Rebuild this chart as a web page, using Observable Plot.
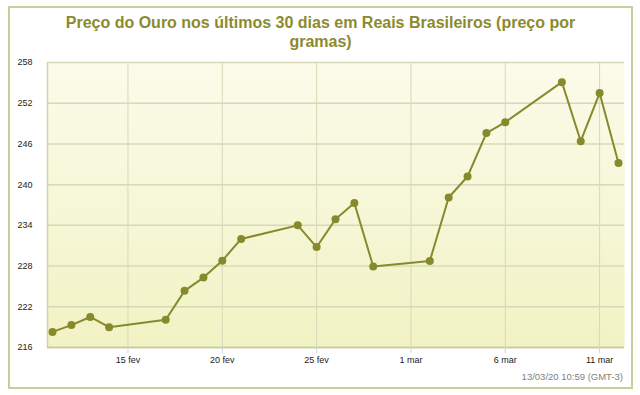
<!DOCTYPE html>
<html>
<head>
<meta charset="utf-8">
<script src="https://cdn.jsdelivr.net/npm/d3@7"></script>
<script src="https://cdn.jsdelivr.net/npm/@observablehq/plot@0.6"></script>
<style>
  html, body { margin: 0; padding: 0; background: #ffffff; }
  #wrap { position: relative; width: 640px; height: 395px; overflow: hidden; font-family: "Liberation Sans", Arial, sans-serif; }
  #border { position: absolute; left: 8px; top: 6px; width: 621px; height: 379px; border: 2px solid #cdcc9c; }
  #title { position: absolute; left: 9px; width: 623px; top: 13px; text-align: center; font-weight: bold; font-size: 16px; line-height: 19px; color: #8c8a2e; }
  #caption { position: absolute; right: 17px; top: 371px; font-size: 9.5px; color: #808080; }
  #chart { position: absolute; left: 0; top: 0; }
</style>
</head>
<body>
<div id="wrap">
  <div id="border"></div>
  <div id="chart"></div>
  <div id="title">Preço do Ouro nos últimos 30 dias em Reais Brasileiros (preço por<br>gramas)</div>
  <div id="caption">13/03/20 10:59 (GMT-3)</div>
</div>
<script>
const dates = ["2020-02-11","2020-02-12","2020-02-13","2020-02-14","2020-02-17","2020-02-18","2020-02-19","2020-02-20","2020-02-21","2020-02-24","2020-02-25","2020-02-26","2020-02-27","2020-02-28","2020-03-02","2020-03-03","2020-03-04","2020-03-05","2020-03-06","2020-03-09","2020-03-10","2020-03-11","2020-03-12"];
const prices = [218.3,219.3,220.5,219.0,220.1,224.35,226.3,228.8,232.0,234.0,230.8,234.9,237.3,227.95,228.75,238.1,241.2,247.6,249.2,255.1,246.4,253.5,243.2];
const yTicks = [216,222,228,234,240,246,252,258];
const xTickDates = ["2020-02-15","2020-02-20","2020-02-25","2020-03-01","2020-03-06","2020-03-11"];
const xTickLabels = ["15 fev","20 fev","25 fev","1 mar","6 mar","11 mar"];

const data = dates.map((d, i) => ({date: new Date(d + "T00:00:00Z"), price: prices[i]}));
const xt = xTickDates.map(d => new Date(d + "T00:00:00Z"));
const labelMap = new Map(xt.map((d, i) => [+d, xTickLabels[i]]));
const xDomain = [new Date("2020-02-10T17:38:00Z"), new Date("2020-03-12T07:40:00Z")];
const olive = "#878a2c";

const svg = Plot.plot({
  width: 640,
  height: 395,
  marginLeft: 47,
  marginRight: 16,
  marginTop: 62,
  marginBottom: 48,
  style: {fontFamily: "'Liberation Sans', Arial, sans-serif", fontSize: "9px", background: "transparent", color: "#222", overflow: "visible"},
  x: {type: "utc", domain: xDomain},
  y: {domain: [216, 258]},
  marks: [
    Plot.frame({fill: "url(#bgGrad)", stroke: null}),
    Plot.gridY(yTicks, {stroke: "#d8d8b8", strokeOpacity: 1, strokeWidth: 1.5}),
    Plot.gridX(xt, {stroke: "#d8d8b8", strokeOpacity: 1, strokeWidth: 1}),
    Plot.ruleY([216], {stroke: "#c9c98f", strokeWidth: 1.5}),
    Plot.ruleX([xDomain[0]], {stroke: "#d2d2a2", strokeWidth: 1.5}),
    Plot.axisY(yTicks, {tickSize: 0, tickPadding: 15, label: null, fill: "#222"}),
    Plot.axisX(xt, {tickSize: 6, tickPadding: 3, stroke: "#c6d6ee", label: null, fill: "#222", tickFormat: d => labelMap.get(+d)}),
    Plot.line(data, {x: "date", y: "price", stroke: olive, strokeWidth: 2}),
    Plot.dot(data, {x: "date", y: "price", r: 4, fill: olive, stroke: null})
  ]
});

const defs = d3.select(svg).insert("defs", ":first-child");
const grad = defs.append("linearGradient").attr("id", "bgGrad").attr("x1", 0).attr("y1", 0).attr("x2", 0).attr("y2", 1);
grad.append("stop").attr("offset", "0%").attr("stop-color", "#fbfbea");
grad.append("stop").attr("offset", "100%").attr("stop-color", "#f1f3c4");

document.getElementById("chart").appendChild(svg);
</script>
</body>
</html>
